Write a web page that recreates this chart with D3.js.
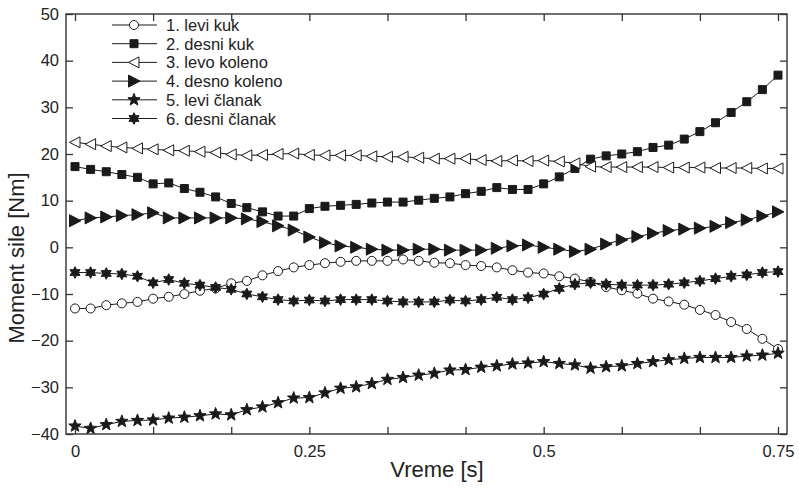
<!DOCTYPE html>
<html><head><meta charset="utf-8">
<script src="https://cdn.jsdelivr.net/npm/d3@7/dist/d3.min.js"></script>
<style>body{margin:0;background:#fff}svg{display:block;font-family:"Liberation Sans",Arial,sans-serif}</style>
</head><body><svg id="c" width="799" height="491"></svg>
<script>
const time = d3.range(46).map(i => i / 60);
const leviKuk = [-13.1,-13.1,-12.4,-12.0,-11.7,-11.0,-10.6,-10.0,-9.3,-8.8,-7.7,-7.2,-6.0,-5.1,-4.3,-3.8,-3.4,-3.1,-2.9,-2.9,-2.9,-2.6,-2.9,-3.3,-3.4,-3.8,-4.0,-4.3,-4.9,-5.4,-5.6,-6.2,-6.7,-7.4,-8.5,-9.2,-9.9,-11.0,-11.6,-12.3,-13.4,-14.5,-16.0,-17.5,-19.6,-21.8];
const desniKuk = [17.3,16.7,16.2,15.6,15.0,13.6,13.8,12.6,11.8,10.8,9.4,8.5,7.6,6.7,6.7,8.3,8.8,9.0,9.2,9.5,9.7,9.7,10.1,10.5,10.8,11.5,12.0,12.8,12.4,12.4,13.6,15.1,16.9,18.9,19.6,20.0,20.5,21.4,21.9,23.2,24.8,26.7,28.9,31.2,33.8,36.9];
const levoKoleno = [22.5,22.1,21.7,21.4,21.2,21.0,20.8,20.7,20.5,20.3,19.9,19.7,19.8,20.0,20.1,19.8,19.7,19.7,19.7,19.5,19.4,19.4,19.2,19.0,19.0,19.0,18.7,18.5,18.6,18.5,18.6,18.4,18.0,17.3,17.2,17.2,17.2,17.2,17.1,17.1,17.1,17.0,17.0,17.0,16.9,16.9];
const desnoKoleno = [5.7,6.3,6.5,6.8,7.0,7.4,6.3,6.3,6.3,6.3,6.3,6.1,5.5,4.6,3.7,2.2,1.0,0.3,0,-0.4,-0.6,-0.6,-0.4,-0.4,-0.6,-0.6,-0.6,-0.2,0.3,0.5,0,-0.4,-0.9,-0.4,0.7,1.6,2.3,3.0,3.6,3.9,4.1,4.5,5.3,5.9,6.7,7.6];
const leviClanak = [-38.3,-38.8,-38.0,-37.3,-37.1,-37.0,-36.6,-36.4,-36.1,-35.7,-35.9,-34.8,-34.2,-33.3,-32.3,-32.2,-31.2,-30.2,-29.9,-29.2,-28.3,-27.9,-27.4,-27.0,-26.3,-26.2,-25.7,-25.4,-25.0,-24.8,-24.5,-24.9,-25.2,-25.9,-25.6,-25.4,-24.9,-24.5,-24.1,-23.8,-23.6,-23.6,-23.6,-23.3,-23.1,-22.7];
const desniClanak = [-5.4,-5.4,-5.6,-5.7,-6.2,-7.6,-6.9,-7.7,-8.1,-8.6,-9.0,-10.0,-10.6,-11.2,-11.5,-11.3,-11.5,-11.2,-11.2,-11.2,-11.5,-11.7,-11.7,-11.7,-11.3,-11.5,-11.2,-10.7,-11.2,-10.8,-10.0,-8.8,-7.9,-7.6,-7.9,-8.1,-8.1,-8.1,-7.9,-7.6,-7.2,-6.7,-6.2,-5.9,-5.4,-5.2];
const seriesNames = ["1. levi kuk","2. desni kuk","3. levo koleno","4. desno koleno","5. levi članak","6. desni članak"];
const xTicks = d3.range(10).map(i => i / 12);
const xTickLabels = {0: "0", 0.25: "0.25", 0.5: "0.5", 0.75: "0.75"};
const yTicks = d3.range(-40, 51, 10);
const xTitle = "Vreme [s]";
const yTitle = "Moment sile [Nm]";

const series = [leviKuk, desniKuk, levoKoleno, desnoKoleno, leviClanak, desniClanak];
const svg = d3.select("#c");
const L = 66, R = 787, T = 14, B = 434;
const x = d3.scaleLinear().domain([0, 0.75]).range([75, 778]);
const y = d3.scaleLinear().domain([-40, 50]).range([B, T]);
const col = "#1a1a1a";

function star(n, ro, ri) {
  let p = [];
  for (let k = 0; k < 2 * n; k++) {
    const a = -Math.PI / 2 + k * Math.PI / n;
    const r = k % 2 ? ri : ro;
    p.push([r * Math.cos(a), r * Math.sin(a)]);
  }
  return "M" + p.map(q => q.join(",")).join("L") + "Z";
}
const shapes = [
  {d: d3.symbol(d3.symbolCircle, 64)(), fill: "#fff"},
  {d: "M-4,-4L4,-4L4,4L-4,4Z", fill: col},
  {d: "M-5.5,0L5,-5.5L5,5.5Z", fill: "#fff"},
  {d: "M6,0L-5.5,-6L-5.5,6Z", fill: col},
  {d: star(5, 6.5, 2.7), fill: col},
  {d: star(6, 5.8, 3.2), fill: col}
];

const line = d3.line().x((d, i) => x(time[i])).y(d => y(d));
series.forEach((s, k) => {
  svg.append("path").attr("d", line(s)).attr("fill", "none").attr("stroke", col).attr("stroke-width", 1);
  svg.append("g").selectAll("path").data(s).join("path")
    .attr("transform", (d, i) => `translate(${x(time[i])},${y(d)})`)
    .attr("d", shapes[k].d).attr("fill", shapes[k].fill).attr("stroke", col).attr("stroke-width", 1);
});

const fs = "16.5px";
const gx = svg.append("g").attr("transform", `translate(0,${B})`)
  .call(d3.axisBottom(x).tickValues(xTicks).tickSize(-7).tickPadding(11)
    .tickFormat(d => { const key = Math.round(d * 100) / 100; return xTickLabels[key] !== undefined && Math.abs(d * 4 - Math.round(d * 4)) < 1e-9 ? xTickLabels[key] : ""; }));
const gxt = svg.append("g").attr("transform", `translate(0,${T})`)
  .call(d3.axisTop(x).tickValues(xTicks).tickSize(-7).tickFormat(""));
const gy = svg.append("g").attr("transform", `translate(${L},0)`)
  .call(d3.axisLeft(y).tickValues(yTicks).tickSize(-7).tickPadding(7).tickFormat(d3.format("d")));
const gyr = svg.append("g").attr("transform", `translate(${R},0)`)
  .call(d3.axisRight(y).tickValues(yTicks).tickSize(-7).tickFormat(""));
[gx, gxt, gy, gyr].forEach(g => {
  g.select(".domain").remove();
  g.selectAll("line").attr("stroke", "#333").attr("stroke-width", 1.3);
  g.selectAll("text").attr("fill", "#222").style("font-size", fs).style("font-family", '"Liberation Sans", Arial, sans-serif');
});
svg.append("rect").attr("x", L).attr("y", T).attr("width", R - L).attr("height", B - T)
  .attr("fill", "none").attr("stroke", "#333").attr("stroke-width", 1.4);

svg.append("text").attr("x", 437).attr("y", 477).attr("text-anchor", "middle")
  .style("font-size", "22px").attr("fill", "#222").text(xTitle);
svg.append("text").attr("transform", "translate(24,258) rotate(-90)").attr("text-anchor", "middle")
  .style("font-size", "22px").attr("fill", "#222").text(yTitle);

const lg = svg.append("g");
seriesNames.forEach((nm, k) => {
  const ly = 25 + k * 18.7;
  lg.append("line").attr("x1", 112).attr("x2", 157).attr("y1", ly).attr("y2", ly).attr("stroke", col).attr("stroke-width", 1);
  lg.append("path").attr("transform", `translate(134,${ly})`).attr("d", shapes[k].d)
    .attr("fill", shapes[k].fill).attr("stroke", col).attr("stroke-width", 1);
  lg.append("text").attr("x", 166).attr("y", ly + 6).style("font-size", "16.5px").attr("fill", "#222").text(nm);
});
</script></body></html>
